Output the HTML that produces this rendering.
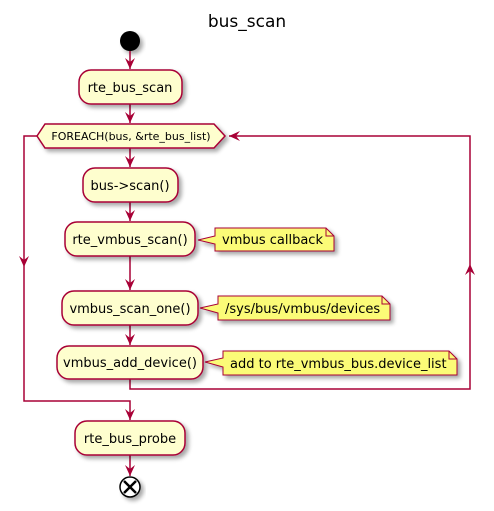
<!DOCTYPE html>
<html><head><meta charset="utf-8"><style>
html,body{margin:0;padding:0;background:#fff;}
svg{display:block;}
text{font-family:"DejaVu Sans","Liberation Sans",sans-serif;fill:#000;}
</style></head><body>
<svg width="494" height="511" viewBox="0 0 494 511" xmlns="http://www.w3.org/2000/svg">
<defs>
<filter id="sh" x="-20%" y="-20%" width="150%" height="160%">
<feGaussianBlur in="SourceAlpha" stdDeviation="2"/>
<feOffset dx="3" dy="3"/>
<feComponentTransfer><feFuncA type="linear" slope="0.35"/></feComponentTransfer>
<feMerge><feMergeNode/><feMergeNode in="SourceGraphic"/></feMerge>
</filter>
</defs>
<text x="247" y="27" font-size="17" text-anchor="middle">bus_scan</text>

<circle cx="130" cy="41" r="10" fill="#000" filter="url(#sh)"/>

<g stroke="#A80036" stroke-width="1.5" fill="none">
<line x1="130" y1="51" x2="130" y2="69"/>
<line x1="130" y1="104" x2="130" y2="123"/>
<line x1="130" y1="148" x2="130" y2="167"/>
<line x1="130" y1="202" x2="130" y2="221"/>
<line x1="130" y1="256" x2="130" y2="290"/>
<line x1="130" y1="325" x2="130" y2="345"/>
<polyline points="130,378 130,389 470,389 470,136 229,136"/>
<polyline points="37,136 24,136 24,401 130,401 130,420"/>
<line x1="130" y1="455" x2="130" y2="476"/>
</g>
<g fill="#A80036">
<polygon points="125,58 130,69 135,58 130,62"/>
<polygon points="125,112 130,123 135,112 130,116"/>
<polygon points="125,156 130,167 135,156 130,160"/>
<polygon points="125,210 130,221 135,210 130,214"/>
<polygon points="125,279 130,290 135,279 130,283"/>
<polygon points="125,334 130,345 135,334 130,338"/>
<polygon points="125,409 130,420 135,409 130,413"/>
<polygon points="125,465 130,476 135,465 130,469"/>
<polygon points="19,256 24,267 29,256 24,260"/>
<polygon points="465,275 470,264 475,275 470,271"/>
<polygon points="240,131 229,136 240,141 236,136"/>
</g>

<g fill="#FEFECE" stroke="#A80036" stroke-width="1.5" filter="url(#sh)">
<rect x="79" y="70" width="103" height="34" rx="12"/>
<polygon points="37,136 45,124 214,124 225,136 214,148 45,148"/>
<rect x="83" y="168" width="95" height="34" rx="12"/>
<rect x="65" y="222" width="130" height="34" rx="12"/>
<rect x="62" y="291" width="136" height="34" rx="12"/>
<rect x="57" y="346" width="146" height="33" rx="12"/>
<rect x="75" y="421" width="110" height="34" rx="12"/>
</g>

<g fill="#FBFB77" stroke="#A80036" stroke-width="1" filter="url(#sh)">
<path d="M215,228 H326 L334,236 V251 H215 V244 L198,240 L215,236 Z"/>
<path d="M326,228 V236 H334" fill="none"/>
<path d="M218,296 H382 L390,304 V320 H218 V313 L200,308 L218,304 Z"/>
<path d="M382,296 V304 H390" fill="none"/>
<path d="M223,351 H449 L457,359 V375 H223 V367 L205,362 L223,358 Z"/>
<path d="M449,351 V359 H457" fill="none"/>
</g>

<g font-size="13" text-anchor="middle">
<text x="130" y="92">rte_bus_scan</text>
<text x="130" y="190">bus-&gt;scan()</text>
<text x="130" y="244">rte_vmbus_scan()</text>
<text x="130" y="313">vmbus_scan_one()</text>
<text x="130" y="367">vmbus_add_device()</text>
<text x="130" y="443">rte_bus_probe</text>
</g>
<text x="131" y="140" font-size="11" text-anchor="middle">FOREACH(bus, &amp;rte_bus_list)</text>
<g font-size="13">
<text x="222" y="244">vmbus callback</text>
<text x="225" y="313">/sys/bus/vmbus/devices</text>
<text x="230" y="368">add to rte_vmbus_bus.device_list</text>
</g>

<g filter="url(#sh)">
<circle cx="130" cy="487" r="10" fill="#fff" stroke="#000" stroke-width="1.5"/>
</g>
<g stroke="#000" stroke-width="2.5">
<line x1="124" y1="481" x2="136" y2="493"/>
<line x1="136" y1="481" x2="124" y2="493"/>
</g>
</svg>
</body></html>
